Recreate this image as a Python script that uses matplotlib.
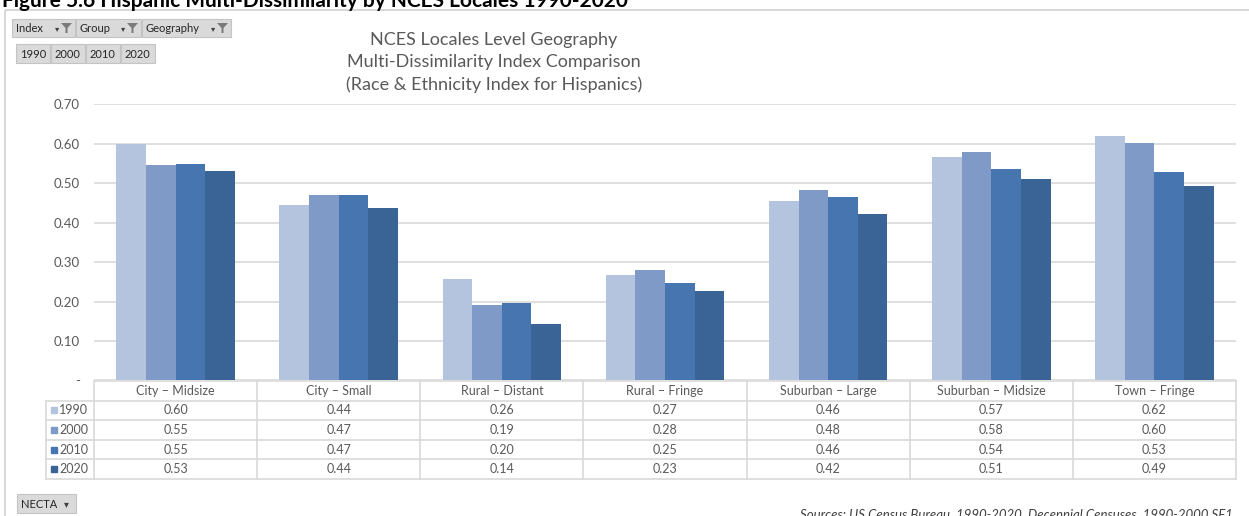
import numpy as np
import matplotlib
matplotlib.use("Agg")
import matplotlib.pyplot as plt
from matplotlib.patches import Rectangle, Polygon

plt.rcParams['font.family'] = ['Lato', 'DejaVu Sans']

# Data
categories = ['City – Midsize', 'City – Small', 'Rural – Distant', 'Rural – Fringe',
              'Suburban – Large', 'Suburban – Midsize', 'Town – Fringe']
years = ['1990', '2000', '2010', '2020']
v1990 = [0.600, 0.444, 0.258, 0.266, 0.456, 0.566, 0.620]
v2000 = [0.546, 0.469, 0.192, 0.280, 0.483, 0.580, 0.603]
v2010 = [0.549, 0.469, 0.197, 0.248, 0.464, 0.537, 0.529]
v2020 = [0.532, 0.436, 0.143, 0.226, 0.422, 0.510, 0.492]
series = [v1990, v2000, v2010, v2020]
yticks = [0.0, 0.1, 0.2, 0.3, 0.4, 0.5, 0.6, 0.7]
ytick_labels = ['-', '0.10', '0.20', '0.30', '0.40', '0.50', '0.60', '0.70']

colors = ['#b4c3de', '#7f9ac6', '#4775af', '#3b6496']
grey = '#595959'
line = '#d9d9d9'

W, H = 1249, 516
fig = plt.figure(figsize=(W / 100, H / 100), dpi=100)

# overlay in pixel coordinates for the dashboard chrome
ov = fig.add_axes([0, 0, 1, 1])
ov.set_xlim(0, W)
ov.set_ylim(H, 0)
ov.axis('off')
ov.add_patch(Rectangle((5, 10), 1400, 700, fill=False, edgecolor='#d0d0d0', lw=1.2))

ov.text(2, 7, 'Figure 5.6 Hispanic Multi-Dissimilarity by NCES Locales 1990-2020',
        fontsize=15, fontweight='bold', color='black', va='baseline', ha='left')


def button(x0, x1, y0, y1, label, funnel=False, arrow=False):
    ov.add_patch(Rectangle((x0, y0), x1 - x0, y1 - y0, facecolor='#dadada',
                           edgecolor='#c4c4c4', lw=0.8))
    ov.text(x0 + 4, (y0 + y1) / 2 + 0.5, label, fontsize=8, color='#262626',
            va='center', ha='left')
    if funnel:
        fx0 = x1 - 14
        yc = (y0 + y1) / 2
        ov.text(fx0 - 4, yc + 1, '▾', fontsize=6, color='#404040', va='center', ha='center')
        ov.add_patch(Polygon([(fx0, yc - 5), (fx0 + 11, yc - 5), (fx0 + 6.5, yc),
                              (fx0 + 6.5, yc + 5), (fx0 + 4.5, yc + 5), (fx0 + 4.5, yc)],
                             closed=True, facecolor='#7a7a7a', edgecolor='none'))
    if arrow:
        ov.text(x1 - 10, (y0 + y1) / 2 + 1, '▾', fontsize=7, color='#404040',
                va='center', ha='center')


button(12, 75, 19, 37, 'Index', funnel=True)
button(76, 141, 19, 37, 'Group', funnel=True)
button(142, 231, 19, 37, 'Geography', funnel=True)
for i, yr in enumerate(years):
    button(16 + i * 35, 50 + i * 35, 44, 63, yr)
button(17, 76, 494, 513, 'NECTA', arrow=True)

for i, t in enumerate(['NCES Locales Level Geography',
                       'Multi-Dissimilarity Index Comparison',
                       '(Race & Ethnicity Index for Hispanics)']):
    ov.text(494, 40 + i * 22.5, t, fontsize=13, color=grey, ha='center', va='center')

ov.text(1233, 508, 'Sources: US Census Bureau, 1990-2020, Decennial Censuses, 1990-2000 SF1',
        fontsize=9.5, style='italic', color='#404040', ha='right', va='top')

# bar chart
left, right = 94, 1236
y0px, y7px = 380.4, 104.3
ax = fig.add_axes([left / W, 1 - y0px / H, (right - left) / W, (y0px - y7px) / H])
x = np.arange(len(categories))
bw = 0.1815
for i, vals in enumerate(series):
    ax.bar(x + (i - 1.5) * bw, vals, bw, color=colors[i], zorder=2, linewidth=0)
ax.set_xlim(-0.5, len(categories) - 0.5)
ax.set_ylim(0, 0.7)
ax.set_yticks(yticks)
ax.set_yticklabels(ytick_labels, color=grey, fontsize=9.5)
ax.set_xticks([])
ax.tick_params(axis='y', length=0, pad=10)
ax.grid(axis='y', color=line, lw=1.2, zorder=0)
for s in ax.spines.values():
    s.set_visible(False)
ax.patch.set_alpha(0)

# data table under the chart
tax = fig.add_axes([left / W, 1 - 479 / H, (right - left) / W, (479 - 381) / H])
tax.set_xlim(-0.5, len(categories) - 0.5)
tax.set_ylim(5, 0)
tax.axis('off')
unit = (right - left) / len(categories)
xl = -0.5 - 48 / unit


def px2x(px):
    return -0.5 + (px - left) / unit


tax.plot([-0.5, 6.5], [0, 0], color=line, lw=1.2, clip_on=False)
for r in range(1, 6):
    tax.plot([xl, 6.5], [r, r], color=line, lw=1.2, clip_on=False)
for k in range(len(categories) + 1):
    tax.plot([-0.5 + k, -0.5 + k], [0, 5], color=line, lw=1.2, clip_on=False)
tax.plot([xl, xl], [1, 5], color=line, lw=1.2, clip_on=False)

for i, c in enumerate(categories):
    tax.text(i, 0.5, c, ha='center', va='center', fontsize=9, color=grey, clip_on=False)
for r, vals in enumerate(series):
    tax.plot(px2x(54), r + 1.5, marker='s', ms=5, color=colors[r], clip_on=False)
    tax.text(px2x(59), r + 1.5, years[r], ha='left', va='center', fontsize=9,
             color=grey, clip_on=False)
    for i, v in enumerate(vals):
        tax.text(i, r + 1.5, f'{v:.2f}', ha='center', va='center', fontsize=9,
                 color=grey, clip_on=False)

fig.savefig('out.png', dpi=100)
